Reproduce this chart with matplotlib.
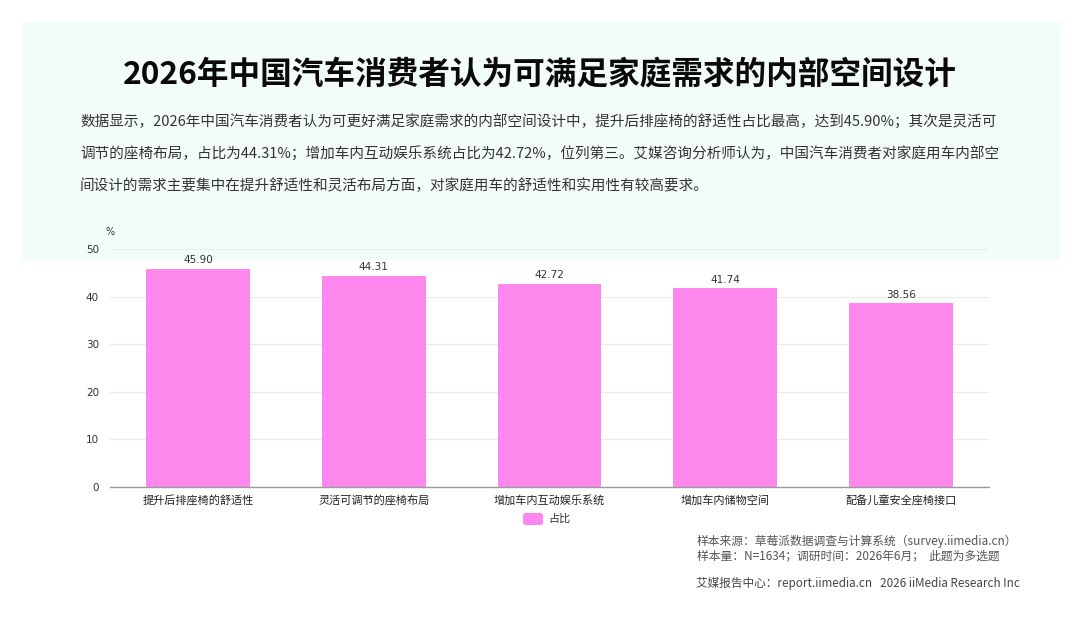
import numpy as np
import matplotlib
matplotlib.use('Agg')
import matplotlib.pyplot as plt
from matplotlib.patches import Rectangle, FancyBboxPatch

plt.rcParams['font.family'] = ['Noto Sans CJK SC', 'DejaVu Sans']

# 数据
categories = ['提升后排座椅的舒适性', '灵活可调节的座椅布局', '增加车内互动娱乐系统',
              '增加车内储物空间', '配备儿童安全座椅接口']
values = [45.90, 44.31, 42.72, 41.74, 38.56]
yticks = [0, 10, 20, 30, 40, 50]
series_name = '占比'

title = '2026年中国汽车消费者认为可满足家庭需求的内部空间设计'
body_lines = [
    '数据显示，2026年中国汽车消费者认为可更好满足家庭需求的内部空间设计中，提升后排座椅的舒适性占比最高，达到45.90%；其次是灵活可',
    '调节的座椅布局，占比为44.31%；增加车内互动娱乐系统占比为42.72%，位列第三。艾媒咨询分析师认为，中国汽车消费者对家庭用车内部空',
    '间设计的需求主要集中在提升舒适性和灵活布局方面，对家庭用车的舒适性和实用性有较高要求。',
]
footer_lines = [
    '样本来源：草莓派数据调查与计算系统（survey.iimedia.cn）',
    '样本量：N=1634；调研时间：2026年6月；  此题为多选题',
]
footer_src = '艾媒报告中心：report.iimedia.cn   2026 iiMedia Research Inc'

W, H = 1080, 623
fig = plt.figure(figsize=(W / 100, H / 100), dpi=100)
fig.patch.set_facecolor('white')

def fx(px):
    return px / W

def fy(py):
    return 1 - py / H

# 背景浅色面板
fig.patches.append(Rectangle((fx(22), fy(260)), fx(1060) - fx(22), fy(22) - fy(260),
                             transform=fig.transFigure, facecolor='#f2fcfa',
                             edgecolor='none', zorder=-5))

fig.text(0.5, fy(75), title, ha='center', va='center', fontsize=22.8,
         fontweight=900, color='#0a0a0a')

for i, line in enumerate(body_lines):
    fig.text(fx(80), fy(122 + 32 * i), line, ha='left', va='center',
             fontsize=10.5, color='#333333')

ax = fig.add_axes([fx(110), fy(487), fx(989) - fx(110), fy(249) - fy(487)])
ax.set_zorder(2)
ax.set_facecolor('none')
x = np.arange(len(categories))
bars = ax.bar(x, values, width=0.59, color='#fd87ec', zorder=3, label=series_name)
for xi, v in zip(x, values):
    ax.text(xi, v + 0.8, f'{v:.2f}', ha='center', va='bottom', fontsize=7.5,
            color='#333333', family='DejaVu Sans')

ax.set_xlim(-0.5, len(categories) - 0.5)
ax.set_ylim(0, 50)
ax.set_yticks(yticks)
ax.set_yticklabels([str(t) for t in yticks], family='DejaVu Sans')
ax.set_xticks(x)
ax.set_xticklabels(categories)
ax.tick_params(axis='x', length=0, pad=6, labelsize=8, labelcolor='#222222')
ax.tick_params(axis='y', length=0, pad=8, labelsize=7.5, labelcolor='#333333')
ax.grid(axis='y', color='#e6ecee', linewidth=0.8, zorder=0)
for s in ['top', 'right', 'left']:
    ax.spines[s].set_visible(False)
ax.spines['bottom'].set_color('#999999')
ax.spines['bottom'].set_linewidth(1.0)
ax.spines['bottom'].set_zorder(4)

fig.text(fx(105), fy(232), '%', ha='left', va='center', fontsize=7,
         color='#333333', family='DejaVu Sans')

# 图例
fig.patches.append(FancyBboxPatch((fx(523), fy(525)), fx(20), fy(513) - fy(525),
                                  boxstyle='round,pad=0.0,rounding_size=0.003',
                                  transform=fig.transFigure, facecolor='#fd87ec',
                                  edgecolor='none'))
fig.text(fx(548), fy(519), series_name, ha='left', va='center', fontsize=8,
         color='#333333')

for i, line in enumerate(footer_lines):
    fig.text(fx(697), fy(541 + 15 * i), line, ha='left', va='center',
             fontsize=8.5, color='#555555')
fig.text(fx(696), fy(583), footer_src, ha='left', va='center', fontsize=8.4,
         color='#444444')

fig.savefig('out.png', dpi=100)
